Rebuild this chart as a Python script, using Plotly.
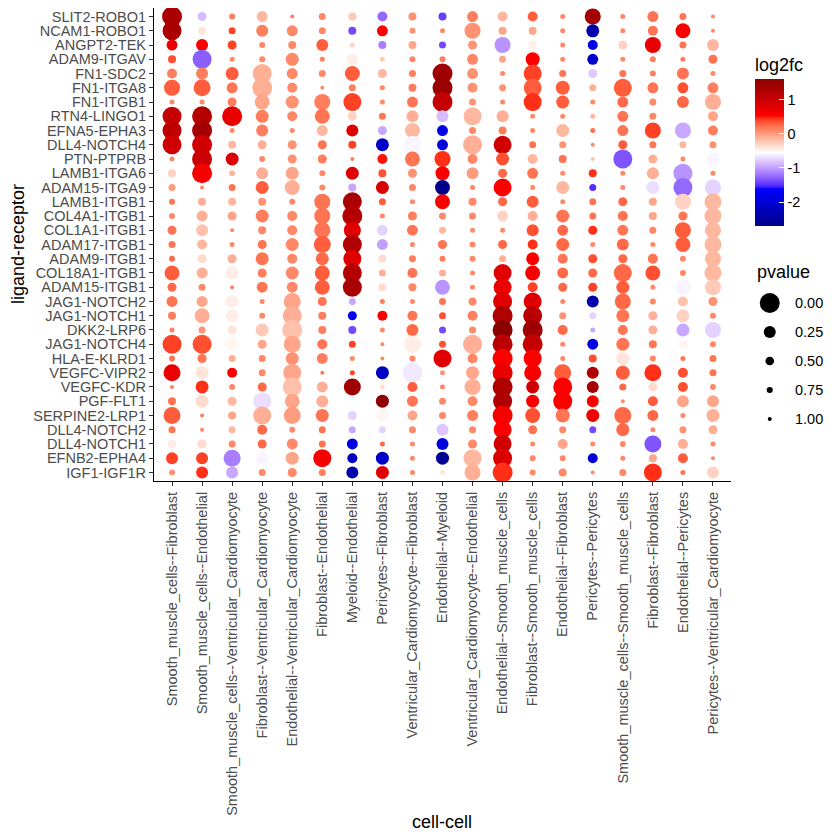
import numpy as np
import plotly.graph_objects as go

ROWS = ["SLIT2-ROBO1", "NCAM1-ROBO1", "ANGPT2-TEK", "ADAM9-ITGAV", "FN1-SDC2", "FN1-ITGA8",
        "FN1-ITGB1", "RTN4-LINGO1", "EFNA5-EPHA3", "DLL4-NOTCH4", "PTN-PTPRB", "LAMB1-ITGA6",
        "ADAM15-ITGA9", "LAMB1-ITGB1", "COL4A1-ITGB1", "COL1A1-ITGB1", "ADAM17-ITGB1",
        "ADAM9-ITGB1", "COL18A1-ITGB1", "ADAM15-ITGB1", "JAG1-NOTCH2", "JAG1-NOTCH1",
        "DKK2-LRP6", "JAG1-NOTCH4", "HLA-E-KLRD1", "VEGFC-VIPR2", "VEGFC-KDR", "PGF-FLT1",
        "SERPINE2-LRP1", "DLL4-NOTCH2", "DLL4-NOTCH1", "EFNB2-EPHA4", "IGF1-IGF1R"]

COLS = ["Smooth_muscle_cells--Fibroblast", "Smooth_muscle_cells--Endothelial",
        "Smooth_muscle_cells--Ventricular_Cardiomyocyte", "Fibroblast--Ventricular_Cardiomyocyte",
        "Endothelial--Ventricular_Cardiomyocyte", "Fibroblast--Endothelial", "Myeloid--Endothelial",
        "Pericytes--Fibroblast", "Ventricular_Cardiomyocyte--Fibroblast", "Endothelial--Myeloid",
        "Ventricular_Cardiomyocyte--Endothelial", "Endothelial--Smooth_muscle_cells",
        "Fibroblast--Smooth_muscle_cells", "Endothelial--Fibroblast", "Pericytes--Pericytes",
        "Smooth_muscle_cells--Smooth_muscle_cells", "Fibroblast--Fibroblast",
        "Endothelial--Pericytes", "Pericytes--Ventricular_Cardiomyocyte"]

LOG2FC = [
    [1.3, -0.85, 0.15, -0.15, 0.15, 0.1, -0.25, -1.25, 0.05, -1.45, 0.15, -0.15, 0.3, 0.1, 1.35, 0.1, 0.2, 0.2, 0.1],
    [1.3, -0.4, 0.4, 0.15, 0.1, 0.1, -1.4, 0.55, 0.05, 0.1, 0.05, -0.05, -0.05, 0.1, -2.4, 0.1, 0.2, 0.55, 0.1],
    [0.7, 0.55, 0.4, 0.1, 0.1, 0.3, -0.3, -1.15, -0.05, -1.4, 0.05, -1.05, -0.45, 0.1, -1.8, -0.3, 0.7, 0.2, -0.15],
    [0.35, -1.3, 0.1, 0.1, 0.1, 0.15, -0.45, -0.25, 0.1, 0.15, 0.1, -0.05, 0.55, 0.1, -2.1, 0.1, 0.15, 0.15, 0.2],
    [0.15, 0.15, 0.3, -0.1, 0.1, 0.1, 0.3, -0.15, 0.15, 1.4, 0.05, 0.1, 0.4, 0.2, -0.8, 0.2, 0.15, 0.2, 0.1],
    [0.3, 0.3, 0.2, -0.1, 0.1, 0.1, 0.15, 0.1, 0.15, 1.45, 0.05, 0.05, 0.3, 0.3, -0.1, 0.3, 0.2, 0.35, 0.15],
    [0.1, 0.1, 0.15, -0.05, 0.05, 0.15, 0.4, 0.1, 0.2, 1.05, 0.05, 0.1, 0.45, 0.3, 0.1, 0.25, 0.1, 0.25, -0.1],
    [1.05, 1.2, 0.7, 0.15, 0.1, 0.2, -0.3, 0.2, -0.1, -0.85, -0.15, -0.1, 0.1, 0.1, -0.15, 0.2, 0.1, -0.55, -0.05],
    [1.1, 1.35, 0.1, 0.15, 0.1, -0.15, 0.85, -0.95, -0.15, -1.8, 0.1, 0.15, 0.1, -0.15, 0.2, 0.2, 0.4, -0.95, 0.15],
    [0.95, 0.95, -0.15, -0.1, 0.05, 0.2, 0.4, -2.1, -0.6, -1.95, -0.1, 0.95, 0.2, 0.05, 0.1, 0.3, 0.2, -0.15, 0.05],
    [0.1, 1.0, 0.85, 0.1, 0.05, 0.15, 0.15, 0.5, 0.2, 0.45, 0.1, 0.35, -0.15, 0.2, -0.2, -1.35, -0.1, 0.1, -0.6],
    [-0.3, 0.6, -0.15, -0.1, -0.05, 0.1, 0.8, 0.35, 0.05, 0.55, 0.0, 0.25, 0.2, 0.1, 0.45, 0.1, -0.1, -1.05, 0.1],
    [0.0, 0.1, 0.2, 0.3, -0.1, 0.1, -0.95, 0.85, 0.1, -2.7, 0.1, 0.55, 0.1, -0.15, -1.5, 0.1, -0.7, -1.25, -0.75],
    [0.2, -0.1, -0.15, 0.05, 0.1, 0.2, 1.3, 0.3, 0.1, 0.55, 0.1, 0.25, 0.3, 0.1, 0.2, 0.25, -0.05, -0.3, -0.15],
    [0.1, -0.1, -0.05, 0.15, 0.1, 0.2, 1.2, 0.1, 0.15, 0.1, 0.1, -0.3, -0.1, 0.2, 0.2, 0.2, -0.05, 0.2, -0.15],
    [0.2, -0.2, 0.1, 0.1, 0.1, 0.2, 0.8, -0.75, 0.2, -0.15, 0.1, 0.1, 0.35, 0.25, 0.45, 0.2, 0.1, 0.3, -0.15],
    [0.2, -0.15, 0.1, 0.2, 0.1, 0.3, 1.25, -1.0, 0.1, 0.2, 0.1, 0.25, 0.45, 0.25, 0.1, 0.25, 0.1, 0.3, -0.15],
    [0.25, -0.35, -0.1, 0.2, 0.1, 0.25, 0.8, -0.35, 0.15, 0.15, 0.1, -0.1, 0.55, 0.2, 0.35, 0.25, 0.2, 0.1, -0.15],
    [0.3, -0.1, -0.45, 0.15, 0.1, 0.3, 1.2, -0.1, 0.2, -0.1, 0.1, 0.8, 0.6, 0.25, 0.25, 0.25, 0.35, 0.1, -0.15],
    [0.25, 0.1, 0.15, 0.2, 0.1, 0.3, 1.3, -0.35, 0.1, -1.05, 0.1, 0.7, 0.4, 0.25, 0.4, 0.3, 0.1, -0.6, -0.25],
    [0.2, -0.05, -0.45, 0.1, -0.05, 0.2, -0.95, 0.15, 0.1, 0.2, 0.1, 0.8, 0.8, 0.1, -2.35, 0.25, 0.1, -0.2, 0.05],
    [0.15, -0.1, -0.45, 0.1, -0.1, 0.15, -1.8, 0.6, 0.2, 0.35, 0.15, 1.25, 1.15, 0.05, -0.75, 0.2, -0.1, -0.3, 0.1],
    [0.15, 0.05, -0.4, -0.25, -0.2, 0.15, -1.4, 0.1, 0.25, -1.4, 0.1, 1.6, 1.4, 0.25, -0.95, 0.2, -0.1, -0.95, -0.75],
    [0.4, 0.35, -0.5, -0.05, -0.05, 0.2, 0.4, 0.1, -0.45, 0.35, -0.1, 1.15, 1.05, 0.1, -1.85, 0.2, 0.2, -0.5, 0.1],
    [0.2, 0.2, -0.1, 0.1, 0.05, 0.15, 0.1, 0.1, 0.1, 0.8, 0.1, 0.55, 0.55, 0.1, 0.35, -0.4, 0.1, 0.2, 0.2],
    [0.7, -0.4, 0.55, 0.1, -0.05, 0.15, 0.4, -2.2, -0.65, 0.05, -0.05, 0.7, 0.6, 0.3, 1.25, 0.3, 0.45, 0.35, 0.2],
    [0.15, 0.45, 0.1, 0.25, -0.2, -0.1, 1.4, -0.35, 0.3, 0.1, -0.1, 1.25, 0.95, 0.55, 1.35, 0.25, -0.35, 0.35, 0.1],
    [0.2, -0.35, -0.15, -0.7, -0.05, -0.1, -0.55, 1.55, 0.2, 0.1, 0.1, 1.25, 0.6, 0.55, 0.6, 0.1, 0.3, -0.05, -0.05],
    [0.3, 0.15, -0.05, -0.1, 0.0, 0.2, -0.75, -0.5, -0.05, 0.1, 0.15, 0.6, 0.35, 0.2, 0.65, 0.25, 0.25, 0.1, -0.1],
    [0.2, 0.1, -0.15, 0.25, 0.1, 0.2, -0.95, -0.75, 0.1, -0.8, 0.1, 0.55, 0.2, 0.1, -1.4, 0.25, 0.1, 0.05, -0.1],
    [-0.45, -0.35, 0.1, 0.25, 0.1, 0.2, -1.85, 0.25, 0.1, -1.9, 0.1, 0.95, 0.1, -0.05, 0.1, 0.1, -1.35, -0.1, 0.1],
    [0.4, 0.4, -1.15, -0.6, -0.05, 0.6, -2.2, -2.1, 0.1, -2.6, -0.15, 0.85, 0.1, 0.1, -2.0, 0.1, -0.05, 0.3, 0.1],
    [0.05, 0.45, -0.95, 0.1, 0.1, 0.15, -2.4, 0.8, 0.1, -0.4, -0.1, 0.45, 0.1, 0.1, 0.1, 0.1, 0.45, 0.2, -0.3],
]

PVALUE = [
    [0, .47, .77, .32, 1, .66, .56, .39, .56, .56, .32, .39, .39, .88, .06, .88, .32, .66, 1],
    [.004, .56, .66, .25, .32, .66, .56, .32, .77, .88, .06, .56, .56, .88, .19, .88, .39, .1, 1],
    [.32, .25, .47, .77, .56, .25, .88, .56, .56, .66, .47, .06, .56, .88, .39, .47, .06, .66, .25],
    [.56, .004, .88, .77, .19, .88, .32, .88, .77, .77, .32, .66, .14, .88, .32, .88, .77, .88, .47],
    [.39, .25, .19, .004, .32, .66, .1, .47, .66, 0, .32, .88, .016, .66, .47, .66, .77, .25, .88],
    [.06, .035, .32, 0, .39, 1, .66, .88, .56, 0, .39, .66, .016, .14, .66, .016, .32, .32, .32],
    [.88, .88, .47, .1, .19, .06, .016, .88, .32, 0, .66, .88, .016, .19, .88, .32, .66, .25, .06],
    [.004, 0, 0, .19, .39, .1, .47, .66, .25, .25, .016, .25, .88, .88, .88, .32, .66, .19, .39],
    [.004, 0, .88, .25, .88, .32, .25, .47, .1, .32, .66, .56, .88, .19, .88, .32, .06, .06, .39],
    [.004, 0, .56, .47, .47, .47, .56, .19, .016, .32, .004, .016, .66, .66, 1, .47, .66, .66, .66],
    [.88, 0, .19, .77, .47, .47, 1, .39, .1, .06, .39, .19, .39, .56, 1, .004, .47, .88, .19],
    [.56, 0, .77, .25, .19, .77, .19, .56, .47, .14, .25, .47, .32, .88, .56, .88, .25, .004, .88],
    [.66, 1, .66, .19, .1, .77, .56, .19, .66, .1, .88, .016, .88, .19, .66, .88, .19, .004, .06],
    [.77, .56, .56, .56, .77, .06, .004, .66, .88, .1, .56, .47, .25, .88, .66, .47, .56, .06, .035],
    [.77, .32, .47, .19, .39, .06, 0, .88, .47, .66, .66, .32, .39, .19, .66, .39, .56, .47, .035],
    [.47, .25, 1, .56, .39, .06, .035, .32, .32, .66, .88, .88, .25, .32, .47, .32, .66, .06, .06],
    [.66, .39, .88, .47, .19, .035, .004, .32, .88, .47, .77, .47, .39, .19, .88, .25, .88, .1, .035],
    [.77, .47, .47, .19, .39, .19, .016, .56, .66, .77, .77, .66, .19, .39, .47, .47, .39, .77, .06],
    [.1, .32, .19, .47, .19, .1, .004, .66, .39, .66, .88, .016, .1, .32, .47, .016, .1, .77, .035],
    [.47, .66, 1, .32, .32, .1, .004, .56, .56, .1, .88, .016, .39, .47, .47, .19, .88, .06, .06],
    [.32, .32, .19, .88, .035, .47, .66, .88, .88, .66, .56, .004, .016, .88, .25, .06, .77, .39, .47],
    [.56, .1, .19, .77, .004, .56, .47, .39, .39, .66, .39, 0, .004, .66, .66, .19, .47, .19, .77],
    [.88, .66, .47, .19, 0, .56, .56, .88, .25, .66, .66, 0, 0, .39, .88, .39, .47, .19, .06],
    [.004, .004, .19, .47, .035, .39, .66, 1, .035, .66, .004, 0, 0, .88, .32, .19, .56, .47, .77],
    [.77, .47, .66, .66, .19, .32, .88, 1, .77, .016, .39, 0, .016, .88, .56, .19, .77, .88, .66],
    [.035, .19, .39, .66, .016, 1, .88, .19, 0, .88, .19, 0, .035, .035, .25, .14, .035, .39, .66],
    [1, .19, .77, .47, .004, .32, .035, .88, .39, .88, .06, 0, .19, .004, .25, .66, .47, .39, .77],
    [.56, .19, .47, .016, .1, .25, .66, .19, .32, .66, .39, .004, .19, .004, .25, 1, .39, .25, .25],
    [.035, 1, .56, .016, .035, .19, .47, .19, .39, .66, .32, 0, .1, .14, .19, .035, .32, .88, .19],
    [.66, 1, .66, .39, .77, .66, .66, .66, .66, .25, .66, .016, .47, .66, .66, .19, .88, .66, .47],
    [.47, .47, .66, .47, .32, .66, .32, .88, .88, .25, .47, .016, .88, .39, .88, .77, .035, .39, .88],
    [.25, .25, .035, .25, .19, .016, .39, .19, .88, .19, .016, .004, .77, .77, .39, .88, .56, .39, 1],
    [.77, .25, .25, .66, .47, .66, .25, .19, .88, .88, .06, 0, .77, .56, 1, .66, .016, .88, .25],
]

P_BREAKS = [0.0, 0.25, 0.5, 0.75, 1.0]
P_LABELS = ["0.00", "0.25", "0.50", "0.75", "1.00"]
FC_TICKS = [-2, -1, 0, 1]

assert len(LOG2FC) == len(ROWS) and len(PVALUE) == len(ROWS)
assert all(len(r) == len(COLS) for r in LOG2FC) and all(len(r) == len(COLS) for r in PVALUE)


def size_of(p):
    return 4 + 16 * (1 - np.sqrt(np.asarray(p, dtype=float)))


# ---- Lab-interpolated colour scale (like ggplot's gradientn) ----
def _srgb_to_lab(hexc):
    rgb = [int(hexc[i:i + 2], 16) / 255 for i in (1, 3, 5)]
    lin = [c / 12.92 if c <= 0.04045 else ((c + 0.055) / 1.055) ** 2.4 for c in rgb]
    r, g, b = lin
    X = 0.4124 * r + 0.3576 * g + 0.1805 * b
    Y = 0.2126 * r + 0.7152 * g + 0.0722 * b
    Z = 0.0193 * r + 0.1192 * g + 0.9505 * b
    Xn, Yn, Zn = 0.95047, 1.0, 1.08883

    def f(t):
        return t ** (1 / 3) if t > 0.008856 else 7.787 * t + 16 / 116
    fx, fy, fz = f(X / Xn), f(Y / Yn), f(Z / Zn)
    return (116 * fy - 16, 500 * (fx - fy), 200 * (fy - fz))


def _lab_to_rgbstr(lab):
    L, a, bb = lab
    fy = (L + 16) / 116
    fx = fy + a / 500
    fz = fy - bb / 200

    def finv(t):
        return t ** 3 if t ** 3 > 0.008856 else (t - 16 / 116) / 7.787
    X, Y, Z = 0.95047 * finv(fx), finv(fy), 1.08883 * finv(fz)
    r = 3.2406 * X - 1.5372 * Y - 0.4986 * Z
    g = -0.9689 * X + 1.8758 * Y + 0.0415 * Z
    b = 0.0557 * X - 0.2040 * Y + 1.0570 * Z
    out = []
    for c in (r, g, b):
        c = min(max(c, 0), 1)
        c = 12.92 * c if c <= 0.0031308 else 1.055 * c ** (1 / 2.4) - 0.055
        out.append(int(round(min(max(c, 0), 1) * 255)))
    return "rgb(%d,%d,%d)" % tuple(out)


ANCHORS = ["#00008B", "#0000FF", "#FFFFFF", "#FF0000", "#8B0000"]
labs = [_srgb_to_lab(c) for c in ANCHORS]
colorscale = []
nseg = len(ANCHORS) - 1
steps = 12
for s in range(nseg):
    for k in range(steps + (1 if s == nseg - 1 else 0)):
        t = k / steps
        lab = tuple(labs[s][i] + (labs[s + 1][i] - labs[s][i]) * t for i in range(3))
        colorscale.append([(s + t) / nseg, _lab_to_rgbstr(lab)])
colorscale[-1][0] = 1.0

# ---- long-form data ----
xs, ys, cs, ss, hov = [], [], [], [], []
for i, rname in enumerate(ROWS):
    for j, cname in enumerate(COLS):
        xs.append(j)
        ys.append(i)
        cs.append(LOG2FC[i][j])
        ss.append(float(size_of(PVALUE[i][j])))
        hov.append(f"{rname}<br>{cname}<br>log2fc={LOG2FC[i][j]}<br>pvalue={PVALUE[i][j]}")

FONT = "Liberation Sans, Arial, sans-serif"
W, H = 840, 840
ML, MR, MT, MB = 154, 20, 8, 359
PW, PH = W - ML - MR, H - MT - MB


def px_x(px):
    return (px - ML) / PW


def px_y(py):
    return (H - MB - py) / PH


fc_min, fc_max = float(np.min(cs)), float(np.max(cs))

fig = go.Figure()
fig.add_trace(go.Scatter(
    x=xs, y=ys, mode="markers", showlegend=False,
    hovertext=hov, hoverinfo="text",
    marker=dict(
        size=ss, sizemode="diameter", color=cs, colorscale=colorscale,
        cmin=fc_min, cmax=fc_max, line=dict(width=0), opacity=1,
        showscale=True,
        colorbar=dict(
            title=dict(text="log2fc", side="top", font=dict(size=18, color="black", family=FONT)),
            x=px_x(755), xanchor="left", xref="paper", xpad=0,
            y=px_y(226), yanchor="bottom", ypad=0,
            len=172, lenmode="pixels", thickness=29, thicknessmode="pixels",
            outlinewidth=0, tickvals=FC_TICKS, ticktext=[str(v) for v in FC_TICKS],
            ticks="inside", ticklen=5, tickcolor="white", tickwidth=1,
            tickfont=dict(size=14.5, color="black", family=FONT),
        ),
    ),
))

# size legend (pvalue)
fig.add_trace(go.Scatter(
    x=[0.33] * len(P_BREAKS), y=list(range(len(P_BREAKS))), mode="markers",
    xaxis="x2", yaxis="y2", showlegend=False, hoverinfo="skip",
    marker=dict(size=[float(v) for v in size_of(P_BREAKS)], color="black",
                line=dict(width=0), opacity=1),
))

annotations = []
for k, lab in enumerate(P_LABELS):
    annotations.append(dict(x=0.64, y=k, xref="x2", yref="y2", text=lab, showarrow=False,
                            xanchor="left", yanchor="middle",
                            font=dict(size=14.5, color="black", family=FONT)))
annotations.append(dict(x=px_x(755), y=px_y(272), xref="paper", yref="paper", text="pvalue",
                        showarrow=False, xanchor="left", yanchor="middle",
                        font=dict(size=18, color="black", family=FONT)))
annotations.append(dict(x=px_x(442), y=px_y(822), xref="paper", yref="paper", text="cell-cell",
                        showarrow=False, xanchor="center", yanchor="middle",
                        font=dict(size=18, color="black", family=FONT)))
annotations.append(dict(x=px_x(18), y=px_y(244), xref="paper", yref="paper", text="ligand-receptor",
                        showarrow=False, xanchor="center", yanchor="middle", textangle=-90,
                        font=dict(size=18, color="black", family=FONT)))

tickfont = dict(size=14.5, color="#4D4D4D", family=FONT)
fig.update_layout(
    width=W, height=H,
    margin=dict(l=ML, r=MR, t=MT, b=MB, autoexpand=False),
    paper_bgcolor="white", plot_bgcolor="white",
    font=dict(family=FONT),
    xaxis=dict(domain=[0, px_x(731)], range=[-0.6, len(COLS) - 0.4],
               tickmode="array", tickvals=list(range(len(COLS))), ticktext=COLS,
               tickangle=-90, tickfont=tickfont, showgrid=False, zeroline=False,
               showline=True, linecolor="black", linewidth=1.1,
               ticks="outside", ticklen=4, tickwidth=1.1, tickcolor="#333333",
               fixedrange=True),
    yaxis=dict(domain=[0, 1], range=[len(ROWS) - 0.4, -0.6],
               tickmode="array", tickvals=list(range(len(ROWS))), ticktext=ROWS,
               tickfont=tickfont, showgrid=False, zeroline=False,
               showline=True, linecolor="black", linewidth=1.1,
               ticks="outside", ticklen=4, tickwidth=1.1, tickcolor="#333333",
               fixedrange=True),
    xaxis2=dict(domain=[px_x(745), 1.0], range=[0, 1], visible=False, anchor="y2", fixedrange=True),
    yaxis2=dict(domain=[px_y(433.5), px_y(288.5)], range=[4.5, -0.5], visible=False,
                anchor="x2", fixedrange=True),
    annotations=annotations,
    showlegend=False,
)

fig.write_html("out.html")
